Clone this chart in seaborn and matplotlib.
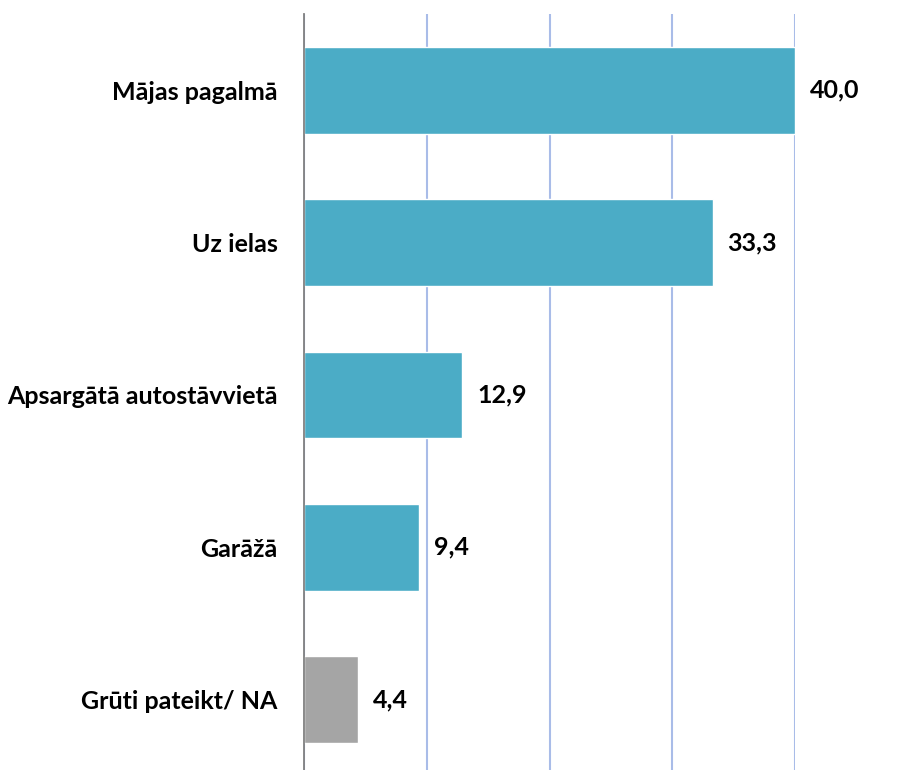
import matplotlib.pyplot as plt
import pandas as pd
import seaborn as sns

# %% data

categories = ["Mājas pagalmā", "Uz ielas", "Apsargātā autostāvvietā", "Garāžā", "Grūti pateikt/ NA"]
values = [40.0, 33.3, 12.9, 9.4, 4.4]
colors = ["#4BACC6", "#4BACC6", "#4BACC6", "#4BACC6", "#A5A5A5"]

df = pd.DataFrame({"place": categories, "pct": values})

# %% plot

sns.set_theme(style="white")
plt.rcParams["font.family"] = ["Lato", "DejaVu Sans"]

fig = plt.figure(figsize=(9.07, 7.70), dpi=100)
ax = fig.add_axes([304 / 907, -6 / 770, (795 - 304) / 907, 762 / 770])

sns.barplot(
    data=df, x="pct", y="place", hue="place", palette=colors,
    orient="h", width=0.57, legend=False, ax=ax, saturation=1,
)

ax.set_xlim(0, 40)
ax.set_ylim(4.5, -0.5)
ax.set_xticks([0, 10, 20, 30, 40])
ax.set_xticklabels([])
ax.xaxis.grid(True, color="#A9BCE8", linewidth=1.5)
ax.set_axisbelow(True)
ax.tick_params(axis="both", length=0)
for s in ["top", "right", "bottom"]:
    ax.spines[s].set_visible(False)
ax.spines["left"].set_color("#808080")
ax.spines["left"].set_linewidth(1.3)
ax.set_xlabel("")
ax.set_ylabel("")
ax.set_yticks(range(len(categories)))
ax.set_yticklabels(categories, fontsize=18, fontweight="bold", color="#000000")
ax.tick_params(axis="y", pad=19)

for i, v in enumerate(values):
    ax.text(v + 1.2, i, f"{v:.1f}".replace(".", ","), va="center", ha="left",
            fontsize=18, fontweight="bold", color="#000000")

fig.savefig("out.png", dpi=100, facecolor="w")
